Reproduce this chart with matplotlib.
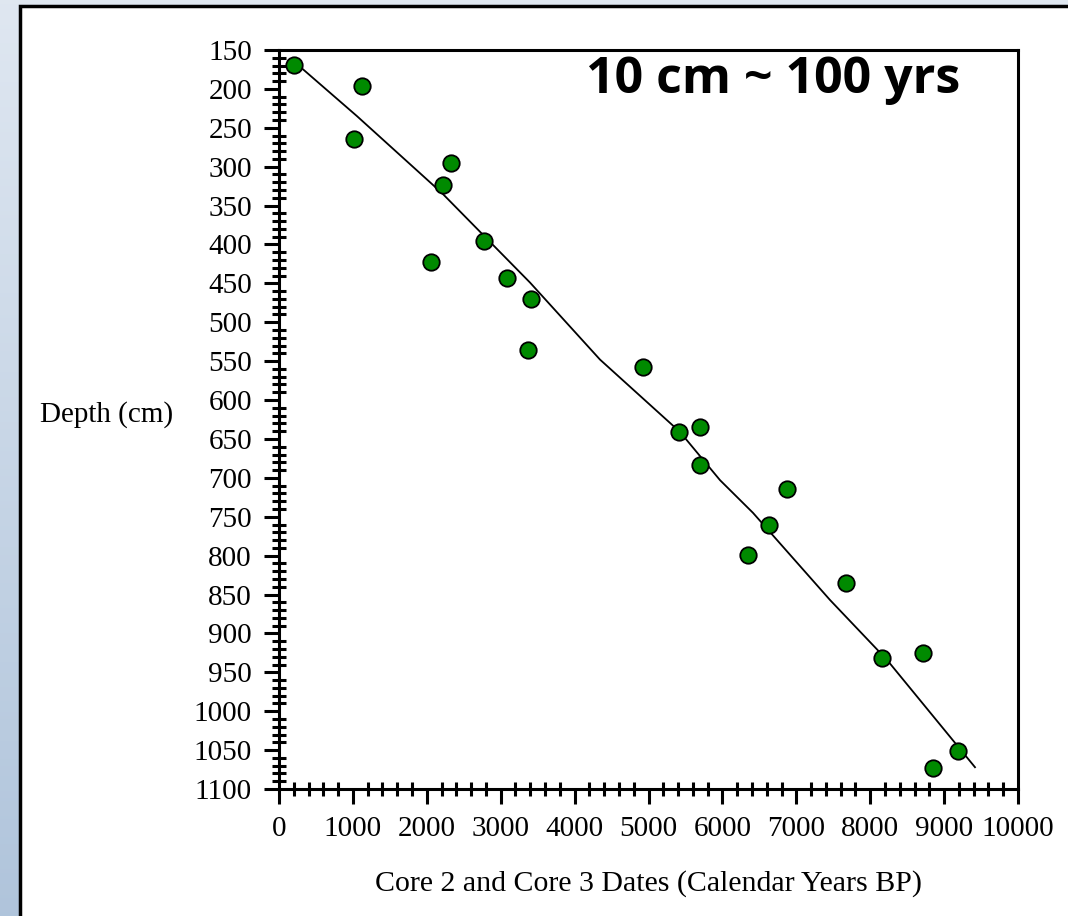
import numpy as np
import matplotlib
matplotlib.use("Agg")
import matplotlib.pyplot as plt
from matplotlib.ticker import MultipleLocator
from matplotlib.patches import Rectangle

# Data
ages = [207, 1119, 1015, 2327, 2224, 2052, 2778, 3090, 3406, 3374, 4930,
        5417, 5697, 5697, 6878, 6635, 6351, 7673, 8155, 8719, 9192, 8854]
depths = [169, 196, 265, 295, 324, 423, 396, 443, 470, 536, 558,
          641, 634, 684, 714, 760, 799, 835, 931, 925, 1051, 1073]

fit_ages = [230, 1055, 2206, 3397, 4344, 5426, 5968, 6414, 7456, 8227, 9418]
fit_depths = [167, 235, 334, 449, 548, 641, 703, 745, 857, 934, 1072]

x_ticks = [0, 1000, 2000, 3000, 4000, 5000, 6000, 7000, 8000, 9000, 10000]
y_ticks = [150, 200, 250, 300, 350, 400, 450, 500, 550, 600, 650, 700, 750,
           800, 850, 900, 950, 1000, 1050, 1100]

W, H = 1068, 916
fig = plt.figure(figsize=(W / 100, H / 100), dpi=100)

# background gradient
bg = fig.add_axes([0, 0, 1, 1], zorder=-10)
grad = np.linspace(0, 1, 256).reshape(-1, 1)
top = np.array([0.875, 0.906, 0.945])
bot = np.array([0.69, 0.77, 0.86])
img = top[None, None, :] * (1 - grad[:, :, None]) + bot[None, None, :] * grad[:, :, None]
bg.imshow(img, aspect="auto", extent=[0, 1, 0, 1], origin="upper")
bg.set_xlim(0, 1)
bg.set_ylim(0, 1)
bg.axis("off")
bg.add_patch(Rectangle((20.5 / W, -0.1), 1.2, 1 - 5.5 / H + 0.1,
                       facecolor="white", edgecolor="black", linewidth=2.5,
                       transform=bg.transAxes))

serif = ["Liberation Serif", "DejaVu Serif"]

ax = fig.add_axes([279 / W, 1 - 789 / H, (1018 - 279) / W, (789 - 50) / H])
ax.set_facecolor("none")
ax.plot(fit_ages, fit_depths, color="black", linewidth=1.3, zorder=2)
ax.scatter(ages, depths, s=140, facecolor="#008a00", edgecolor="black",
           linewidth=1.3, zorder=3)

ax.set_xlim(0, 10000)
ax.set_ylim(1100, 150)
ax.set_xticks(x_ticks)
ax.set_yticks(y_ticks)
ax.xaxis.set_minor_locator(MultipleLocator(200))
ax.yaxis.set_minor_locator(MultipleLocator(10))
ax.tick_params(which="major", direction="out", length=11, width=2.2, pad=8.5)
ax.tick_params(which="minor", direction="inout", length=10, width=2.2)
for s in ax.spines.values():
    s.set_linewidth(2.2)
for lab in ax.get_xticklabels() + ax.get_yticklabels():
    lab.set_fontfamily(serif)
    lab.set_fontsize(21)

ax.set_xlabel("Core 2 and Core 3 Dates (Calendar Years BP)", family=serif,
              fontsize=21.5, labelpad=20)
fig.text(40 / W, 1 - 415 / H, "Depth (cm)", family=serif, fontsize=21,
         ha="left", va="center")

fig.text(960 / W, 1 - 93 / H, "10 cm ~ 100 yrs",
         ha="right", va="baseline", fontsize=36, fontweight="bold",
         family=["Open Sans", "DejaVu Sans"])

fig.savefig("out.png", dpi=100)
